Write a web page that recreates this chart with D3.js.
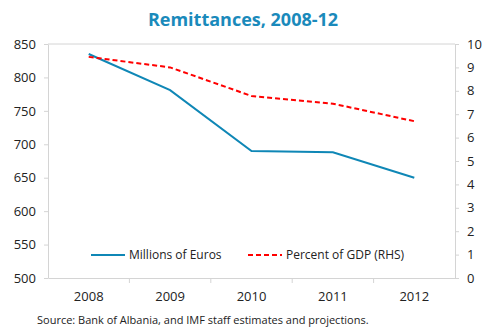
<!DOCTYPE html>
<html>
<head>
<meta charset="utf-8">
<script src="https://cdn.jsdelivr.net/npm/d3@7"></script>
<style>
  body { margin: 0; background: #fff; }
  text { font-family: 'Open Sans', 'Noto Sans', sans-serif; fill: #222; }
</style>
</head>
<body>
<div id="chart"></div>
<script>
const years = ['2008', '2009', '2010', '2011', '2012']
const millionsEuros = [835, 781, 690, 688, 650]
const percentGdp = [9.45, 9.0, 7.78, 7.45, 6.7]
const leftTicks = [500, 550, 600, 650, 700, 750, 800, 850]
const rightTicks = [0, 1, 2, 3, 4, 5, 6, 7, 8, 9, 10]

const W = 487, H = 328
const m = { top: 44, right: 32, bottom: 50, left: 48 }
const BLUE = '#0f87b6', RED = '#ff0000', GRID = '#d4d4d4'

const svg = d3.select('#chart').append('svg')
  .attr('width', W).attr('height', H)

const x = d3.scaleBand().domain(years).range([m.left, W - m.right])
const yL = d3.scaleLinear().domain([500, 850]).range([H - m.bottom, m.top])
const yR = d3.scaleLinear().domain([0, 10]).range([H - m.bottom, m.top])

// title
svg.append('text')
  .attr('x', 243).attr('y', 26)
  .attr('text-anchor', 'middle')
  .style('font-size', '18px').style('font-weight', 'bold')
  .style('fill', '#1a8abb')
  .text('Remittances, 2008-12')

// top border
svg.append('line')
  .attr('x1', m.left).attr('x2', W - m.right)
  .attr('y1', m.top).attr('y2', m.top)
  .attr('stroke', GRID)

const styleAxis = g => {
  g.select('.domain').attr('stroke', GRID)
  g.selectAll('.tick line').attr('stroke', GRID)
  g.selectAll('.tick text').style('font-size', '13px').style('fill', '#222')
    .style('font-family', "'Open Sans', 'Noto Sans', sans-serif")
}

svg.append('g')
  .attr('transform', `translate(${m.left},0)`)
  .call(d3.axisLeft(yL).tickValues(leftTicks).tickSize(4).tickPadding(8).tickSizeOuter(0))
  .call(styleAxis)

svg.append('g')
  .attr('transform', `translate(${W - m.right},0)`)
  .call(d3.axisRight(yR).tickValues(rightTicks).tickSize(4).tickPadding(8).tickSizeOuter(0))
  .call(styleAxis)

// x axis with ticks at band boundaries
const xg = svg.append('g')
  .attr('transform', `translate(0,${H - m.bottom})`)
  .call(d3.axisBottom(x).tickSize(0).tickPadding(14))
  .call(styleAxis)
xg.selectAll('.bound')
  .data(years.slice(1))
  .enter().append('line')
  .attr('x1', d => x(d)).attr('x2', d => x(d))
  .attr('y1', 0).attr('y2', 5)
  .attr('stroke', GRID)

const cx = d => x(d) + x.bandwidth() / 2

svg.append('path')
  .datum(millionsEuros)
  .attr('fill', 'none').attr('stroke', BLUE).attr('stroke-width', 2)
  .attr('d', d3.line().x((d, i) => cx(years[i])).y(d => yL(d)))

svg.append('path')
  .datum(percentGdp)
  .attr('fill', 'none').attr('stroke', RED).attr('stroke-width', 2)
  .attr('stroke-dasharray', '5,3')
  .attr('d', d3.line().x((d, i) => cx(years[i])).y(d => yR(d)))

// legend
const legend = [
  { label: 'Millions of Euros', color: BLUE, dash: null, x: 91 },
  { label: 'Percent of GDP (RHS)', color: RED, dash: '5,3', x: 248 }
]
const lg = svg.selectAll('.legend').data(legend).enter().append('g')
  .attr('class', 'legend')
  .attr('transform', d => `translate(${d.x},255)`)
lg.append('line')
  .attr('x1', 0).attr('x2', 34)
  .attr('stroke', d => d.color).attr('stroke-width', 2)
  .attr('stroke-dasharray', d => d.dash)
lg.append('text')
  .attr('x', 38).attr('dy', '0.35em')
  .style('font-size', '12px')
  .text(d => d.label)

// source
svg.append('text')
  .attr('x', 37).attr('y', 324)
  .style('font-size', '11px')
  .text('Source: Bank of Albania, and IMF staff estimates and projections.')
</script>
</body>
</html>
